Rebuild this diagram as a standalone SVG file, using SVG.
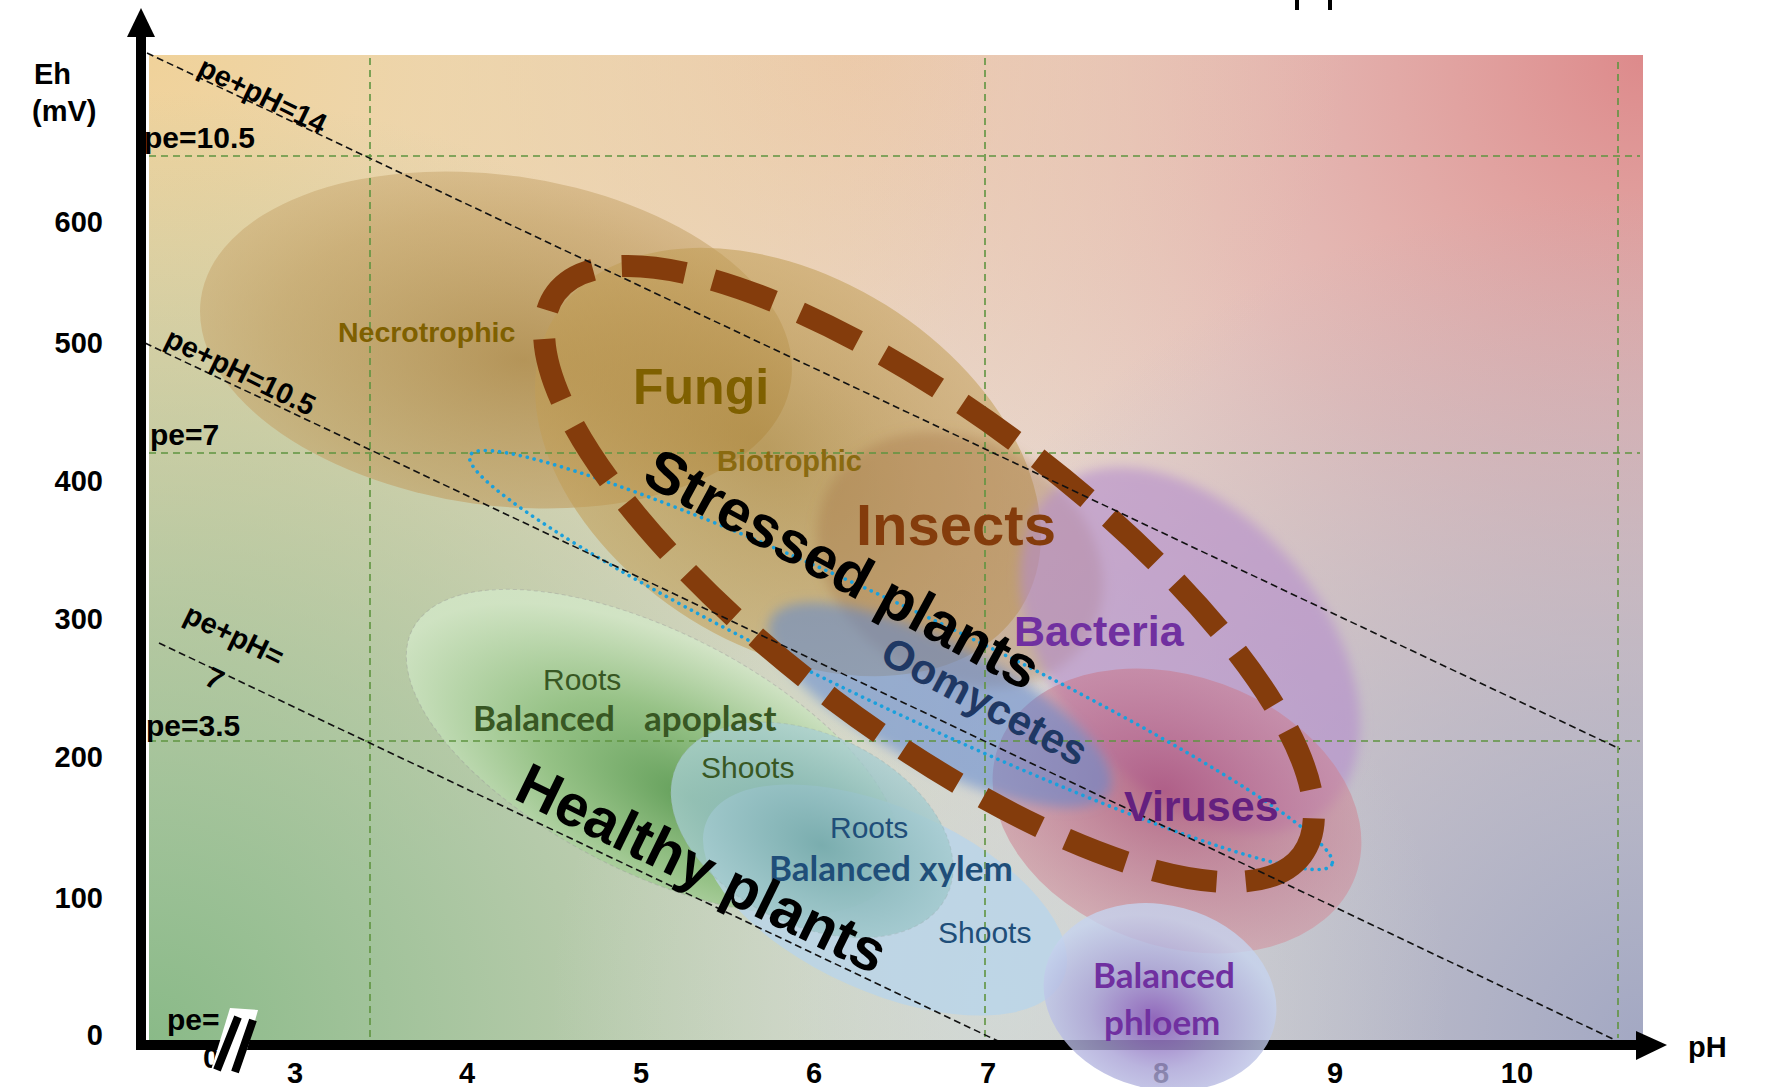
<svg xmlns="http://www.w3.org/2000/svg" width="1766" height="1087" viewBox="0 0 1766 1087">
<defs>
<style>
.ax{font-family:"Liberation Sans",Arial,sans-serif;font-weight:bold;font-size:29px;fill:#000}
.pe{font-family:"Liberation Sans",Arial,sans-serif;font-weight:bold;font-size:30px;fill:#000}
.lb{font-family:"Liberation Sans",Arial,sans-serif;font-weight:bold}
.rg{font-family:"Liberation Sans",Arial,sans-serif;font-size:30px}
.cb{font-family:Lato,"Liberation Sans",sans-serif;font-weight:bold;font-size:35px}
.grid{stroke:#5f9440;stroke-width:1.6;stroke-dasharray:7 5;fill:none}
.diag{stroke:#111;stroke-width:1.6;stroke-dasharray:7 4;fill:none}
</style>
<radialGradient id="gTR" gradientUnits="userSpaceOnUse" cx="1643" cy="55" r="900"><stop offset="0" stop-color="#dd8a8b" stop-opacity="1"/><stop offset=".5" stop-color="#e3a8a6" stop-opacity=".6"/><stop offset="1" stop-color="#e8c8c0" stop-opacity="0"/></radialGradient>
<radialGradient id="gTL" gradientUnits="userSpaceOnUse" cx="150" cy="55" r="850"><stop offset="0" stop-color="#f0d29a" stop-opacity="1"/><stop offset="1" stop-color="#efd29a" stop-opacity="0"/></radialGradient>
<radialGradient id="gTM" gradientUnits="userSpaceOnUse" cx="850" cy="40" r="500"><stop offset="0" stop-color="#ecc4a4" stop-opacity=".8"/><stop offset="1" stop-color="#ecc4a4" stop-opacity="0"/></radialGradient>
<radialGradient id="gBL" gradientUnits="userSpaceOnUse" cx="150" cy="1040" r="950"><stop offset="0" stop-color="#8aba88" stop-opacity="1"/><stop offset="1" stop-color="#8aba88" stop-opacity="0"/></radialGradient>
<radialGradient id="gBR" gradientUnits="userSpaceOnUse" cx="1643" cy="1040" r="850"><stop offset="0" stop-color="#a3a8c3" stop-opacity="1"/><stop offset="1" stop-color="#a3a8c3" stop-opacity="0"/></radialGradient>
<radialGradient id="gBM" gradientUnits="userSpaceOnUse" cx="1000" cy="1000" r="450"><stop offset="0" stop-color="#d3dddb" stop-opacity=".7"/><stop offset="1" stop-color="#d3dddb" stop-opacity="0"/></radialGradient>
<radialGradient id="gNec" cx=".55" cy=".55" r=".6"><stop offset="0" stop-color="#a8803c" stop-opacity=".75"/><stop offset=".7" stop-color="#bf9a5c" stop-opacity=".6"/><stop offset="1" stop-color="#c9a870" stop-opacity=".5"/></radialGradient>
<radialGradient id="gFun" cx=".45" cy=".5" r=".6"><stop offset="0" stop-color="#a98336" stop-opacity=".7"/><stop offset="1" stop-color="#c8a560" stop-opacity=".55"/></radialGradient>
<radialGradient id="gVir" cx=".45" cy=".45" r=".6"><stop offset="0" stop-color="#a8406a" stop-opacity=".7"/><stop offset="1" stop-color="#d58d98" stop-opacity=".5"/></radialGradient>
<radialGradient id="gGreen" cx=".6" cy=".6" r=".6"><stop offset="0" stop-color="#5e9c55" stop-opacity=".95"/><stop offset=".5" stop-color="#8fc07f" stop-opacity=".85"/><stop offset="1" stop-color="#d3e8c8" stop-opacity=".8"/></radialGradient>
<radialGradient id="gTeal" cx=".55" cy=".55" r=".6"><stop offset="0" stop-color="#74a9aa" stop-opacity=".9"/><stop offset="1" stop-color="#add2d6" stop-opacity=".75"/></radialGradient>
<radialGradient id="gPhl" cx=".5" cy=".62" r=".55"><stop offset="0" stop-color="#8a5cb8" stop-opacity=".9"/><stop offset=".5" stop-color="#a9a2d6" stop-opacity=".8"/><stop offset="1" stop-color="#c6d3ee" stop-opacity=".8"/></radialGradient>
<filter id="soft" x="-20%" y="-20%" width="140%" height="140%"><feGaussianBlur stdDeviation="6"/></filter>
</defs>

<g id="background">
<rect x="149" y="55" width="1494" height="985" fill="#e8ddd2"/>
<rect x="149" y="55" width="1494" height="985" fill="url(#gTR)"/>
<rect x="149" y="55" width="1494" height="985" fill="url(#gTM)"/>
<rect x="149" y="55" width="1494" height="985" fill="url(#gTL)"/>
<rect x="149" y="55" width="1494" height="985" fill="url(#gBL)"/>
<rect x="149" y="55" width="1494" height="985" fill="url(#gBR)"/>
<rect x="149" y="55" width="1494" height="985" fill="url(#gBM)"/>
</g>

<g id="regions">
<ellipse id="necrotrophic-area" cx="496" cy="340" rx="298" ry="165" transform="rotate(8 496 340)" fill="url(#gNec)"/>
<ellipse id="fungi-area" cx="788" cy="462" rx="275" ry="185" transform="rotate(32 788 462)" fill="url(#gFun)"/>
<ellipse id="insects-area" cx="960" cy="560" rx="150" ry="120" transform="rotate(30 960 560)" fill="#a47448" fill-opacity=".38" filter="url(#soft)"/>
<ellipse id="bacteria-area" cx="1190" cy="650" rx="210" ry="135" transform="rotate(50 1190 650)" fill="#b48ccb" fill-opacity=".6" filter="url(#soft)"/>
<ellipse id="viruses-area" cx="1177" cy="811" rx="190" ry="135" transform="rotate(20 1177 811)" fill="url(#gVir)"/>
<ellipse id="oomycetes-area" cx="940" cy="705" rx="190" ry="62" transform="rotate(27 940 705)" fill="#5f86cf" fill-opacity=".55" filter="url(#soft)"/>
<ellipse id="apoplast-area" cx="653" cy="752" rx="270" ry="120" transform="rotate(27 653 752)" fill="url(#gGreen)" stroke="#999" stroke-opacity=".4" stroke-dasharray="4 3"/>
<ellipse id="xylem-area" cx="885" cy="900" rx="195" ry="92" transform="rotate(24 885 900)" fill="#b9d5ea" fill-opacity=".78"/>
<ellipse id="xylem-roots-area" cx="812" cy="830" rx="150" ry="95" transform="rotate(26 812 830)" fill="url(#gTeal)" stroke="#9aa" stroke-opacity=".35" stroke-dasharray="4 3"/>
</g>

<g id="grid">
<path class="grid" d="M370 58V1038M985 58V1038M1618 62V1038M149 156H1640M149 453H1640M149 741H1640"/>
</g>

<g id="outlines">
<ellipse id="pathogen-zone" cx="901" cy="660" rx="477" ry="50" transform="rotate(25.4 901 660)" fill="none" stroke="#1aa0dc" stroke-width="3.6" stroke-dasharray="0.1 7" stroke-linecap="round"/>
<ellipse id="stressed-zone" cx="929" cy="574" rx="467" ry="158" transform="rotate(37 929 574)" fill="none" stroke="#843C0C" stroke-width="22" stroke-dasharray="64 29"/>
</g>

<g id="connectors">
<path class="diag" d="M147 53L1620 749"/>
<path class="diag" d="M145 343L1615 1040"/>
<path class="diag" d="M159 643L1000 1042"/>
</g>

<g id="axes">
<path d="M141 1045V34" stroke="#000" stroke-width="10" fill="none"/>
<polygon points="141,8 127,37 155,37" fill="#000"/>
<path d="M136 1045H1640" stroke="#000" stroke-width="10" fill="none"/>
<polygon points="1667,1045 1636,1031 1636,1060" fill="#000"/>
<path d="M1297 0V10M1330 0V10" stroke="#000" stroke-width="4"/>
<text class="ax" x="34" y="84">Eh</text>
<text class="ax" x="32" y="121">(mV)</text>
<g text-anchor="end">
<text class="ax" x="103" y="232">600</text>
<text class="ax" x="103" y="353">500</text>
<text class="ax" x="103" y="491">400</text>
<text class="ax" x="103" y="629">300</text>
<text class="ax" x="103" y="767">200</text>
<text class="ax" x="103" y="908">100</text>
<text class="ax" x="103" y="1045">0</text>
</g>
<g text-anchor="middle">
<text class="ax" x="295" y="1083">3</text>
<text class="ax" x="467" y="1083">4</text>
<text class="ax" x="641" y="1083">5</text>
<text class="ax" x="814" y="1083">6</text>
<text class="ax" x="988" y="1083">7</text>
<text class="ax" x="1161" y="1083">8</text>
<text class="ax" x="1335" y="1083">9</text>
<text class="ax" x="1517" y="1083">10</text>
</g>
<text class="ax" x="1688" y="1057">pH</text>
<text class="pe" x="144" y="148">pe=10.5</text>
<text class="pe" x="150" y="445">pe=7</text>
<text class="pe" x="146" y="736">pe=3.5</text>
<text class="pe" x="167" y="1030">pe=</text>
<text class="pe" x="203" y="1068">0</text>
<polygon points="230,1008 258,1010 238,1082 208,1080" fill="#fff"/>
<path d="M238 1017L217 1070M253 1020L235 1072" stroke="#000" stroke-width="8"/>
<text class="ax" transform="translate(196 74) rotate(26)">pe+pH=14</text>
<text class="ax" transform="translate(163 345) rotate(26)">pe+pH=10.5</text>
<text class="ax" transform="translate(182 621) rotate(26)">pe+pH=</text>
<text class="ax" transform="translate(203 684) rotate(26)">7</text>
</g>

<g id="phloem">
<ellipse cx="1160" cy="997" rx="118" ry="92" transform="rotate(15 1160 997)" fill="url(#gPhl)"/>
<text class="cb" x="1093" y="988" fill="#7030a0">Balanced</text>
<text class="cb" x="1104" y="1035" fill="#7030a0">phloem</text>
</g>

<g id="fungi">
<text class="lb" x="338" y="342" font-size="28.5" fill="#7f6000">Necrotrophic</text>
<text class="lb" x="633" y="404" font-size="50" fill="#7f6000">Fungi</text>
<text class="lb" x="717" y="471" font-size="29" fill="#8a6a10">Biotrophic</text>
</g>
<g id="insects"><text class="lb" x="856" y="545" font-size="58" fill="#843c0c">Insects</text></g>
<g id="bacteria"><text class="lb" x="1014" y="646" font-size="43" fill="#7030a0">Bacteria</text></g>
<g id="viruses"><text class="lb" x="1124" y="821" font-size="43" fill="#64207f">Viruses</text></g>
<g id="oomycetes"><text class="lb" transform="translate(878 661) rotate(28)" font-size="42" fill="#1f3864">Oomycetes</text></g>
<g id="stressed"><text class="lb" transform="translate(640 482) rotate(28.5)" font-size="59" fill="#000">Stressed plants</text></g>
<g id="apoplast">
<text class="rg" x="543" y="690" fill="#385723">Roots</text>
<text class="cb" x="473" y="731" fill="#385723" xml:space="preserve">Balanced   <tspan x="644">apoplast</tspan></text>
<text class="rg" x="701" y="778" fill="#385723">Shoots</text>
</g>
<g id="xylem">
<text class="rg" x="830" y="838" fill="#1f4e79">Roots</text>
<text class="cb" x="769" y="881" fill="#1f4e79">Balanced xylem</text>
<text class="rg" x="938" y="943" fill="#1f4e79">Shoots</text>
</g>
<g id="healthy"><text class="lb" transform="translate(512 798) rotate(26)" font-size="59" fill="#000">Healthy plants</text></g>
</svg>
